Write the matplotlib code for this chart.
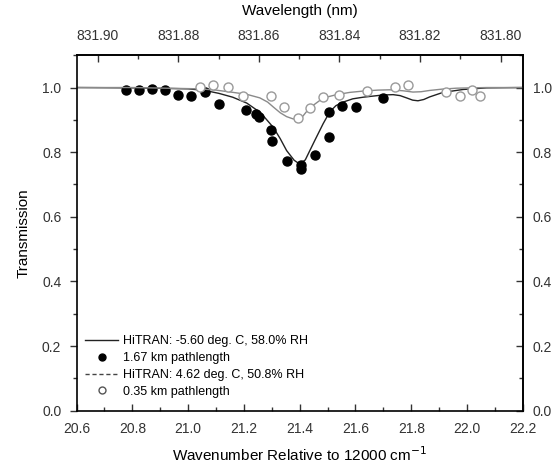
import matplotlib
matplotlib.use("Agg")
import matplotlib.pyplot as plt
from matplotlib.ticker import MultipleLocator, FixedLocator, FormatStrFormatter
from matplotlib.lines import Line2D

plt.rcParams['font.family'] = ['Liberation Sans', 'DejaVu Sans']

# HiTRAN model, -5.60 deg C, 58.0% RH (solid)
hit1_x = [20.60, 20.80, 21.00, 21.06, 21.11, 21.16, 21.21, 21.26, 21.305, 21.33, 21.353, 21.38,
          21.40, 21.42, 21.454, 21.484, 21.508, 21.53, 21.556, 21.59, 21.627, 21.699, 21.735,
          21.76, 21.783, 21.805, 21.824, 21.845, 21.866, 21.914, 21.986, 22.07, 22.20]
hit1_y = [1.000, 0.999, 0.996, 0.991, 0.982, 0.970, 0.952, 0.922, 0.877, 0.842, 0.805, 0.775,
          0.763, 0.776, 0.836, 0.888, 0.925, 0.944, 0.955, 0.965, 0.970, 0.977, 0.978,
          0.975, 0.968, 0.961, 0.959, 0.963, 0.971, 0.985, 0.994, 0.999, 1.000]

# HiTRAN model, 4.62 deg C, 50.8% RH (dashed, grey)
hit2_x = [20.60, 20.80, 21.04, 21.10, 21.161, 21.21, 21.257, 21.285, 21.305, 21.33, 21.353,
          21.376, 21.395, 21.41, 21.424, 21.45, 21.472, 21.50, 21.532, 21.58, 21.627, 21.68,
          21.723, 21.77, 21.806, 21.835, 21.866, 21.91, 21.962, 22.07, 22.20]
hit2_y = [1.000, 1.000, 0.996, 0.992, 0.985, 0.979, 0.968, 0.955, 0.940, 0.922, 0.910,
          0.903, 0.902, 0.910, 0.925, 0.946, 0.960, 0.971, 0.978, 0.985, 0.989, 0.992,
          0.993, 0.990, 0.986, 0.987, 0.991, 0.995, 0.998, 1.000, 1.000]

# 1.67 km pathlength measurements (filled)
m1_x = [20.776, 20.823, 20.869, 20.916, 20.964, 21.012, 21.062, 21.110, 21.206, 21.242, 21.253,
        21.296, 21.301, 21.353, 21.403, 21.403, 21.454, 21.505, 21.504, 21.552, 21.601, 21.697]
m1_y = [0.993, 0.991, 0.996, 0.991, 0.978, 0.975, 0.985, 0.950, 0.932, 0.917, 0.908,
        0.870, 0.834, 0.774, 0.759, 0.747, 0.790, 0.846, 0.924, 0.944, 0.941, 0.968]

# 0.35 km pathlength measurements (open)
m2_x = [21.042, 21.090, 21.143, 21.197, 21.296, 21.344, 21.394, 21.436, 21.482, 21.541, 21.642,
        21.741, 21.789, 21.926, 21.974, 22.018, 22.046]
m2_y = [1.003, 1.008, 1.001, 0.975, 0.975, 0.939, 0.906, 0.936, 0.971, 0.977, 0.989,
        1.003, 1.008, 0.985, 0.975, 0.993, 0.975]

top_ticks = [831.90, 831.88, 831.86, 831.84, 831.82, 831.80]
top_minor = [831.89, 831.87, 831.85, 831.83, 831.81]

labels = ['HiTRAN: -5.60 deg. C, 58.0% RH', '1.67 km pathlength',
          'HiTRAN: 4.62 deg. C, 50.8% RH', '0.35 km pathlength']

fig = plt.figure(figsize=(5.55, 4.72), dpi=100)
ax = fig.add_axes([0.138, 0.130, 0.804, 0.753])

ax.plot(hit1_x, hit1_y, color='#222222', lw=1.0)
ax.plot(m1_x, m1_y, 'o', color='black', ms=6.5)
ax.plot(hit2_x, hit2_y, color='#8a8a8a', lw=1.0)
ax.plot(m2_x, m2_y, 'o', mfc='white', mec='#9a9a9a', mew=1.0, ms=6.5)

ax.set_xlim(20.6, 22.2)
ax.set_ylim(0.0, 1.1)
ax.xaxis.set_major_locator(MultipleLocator(0.2))
ax.xaxis.set_minor_locator(MultipleLocator(0.1))
ax.yaxis.set_major_locator(MultipleLocator(0.2))
ax.yaxis.set_minor_locator(MultipleLocator(0.1))
ax.xaxis.set_major_formatter(FormatStrFormatter('%.1f'))
ax.yaxis.set_major_formatter(FormatStrFormatter('%.1f'))

ax.tick_params(axis='x', which='both', direction='in', top=False, labelsize=10,
               colors='#333333', pad=8)
ax.tick_params(axis='y', which='both', direction='out', right=False,
               labelsize=10, colors='#333333', pad=6)
ax.tick_params(which='major', length=5, width=1.0)
ax.tick_params(which='minor', length=3, width=1.0)
for s in ax.spines.values():
    s.set_linewidth(1.2)

ax.set_xlabel('Wavenumber Relative to 12000 cm$^{-1}$', fontsize=11, labelpad=7)
ax.set_ylabel('Transmission', fontsize=11, labelpad=8)

# right axis mirror (ticks pointing inward)
rax = ax.secondary_yaxis('right')
rax.yaxis.set_major_locator(MultipleLocator(0.2))
rax.yaxis.set_minor_locator(MultipleLocator(0.1))
rax.yaxis.set_major_formatter(FormatStrFormatter('%.1f'))
rax.tick_params(which='both', direction='in', labelsize=10, colors='#333333', pad=7)
rax.tick_params(which='major', length=5, width=1.0)
rax.tick_params(which='minor', length=3, width=1.0)
rax.spines['right'].set_linewidth(1.2)

def wn2wl(x):
    return 1e7 / (12000.0 + x)

def wl2wn(w):
    return 1e7 / w - 12000.0

sec = ax.secondary_xaxis('top', functions=(wn2wl, wl2wn))
sec.xaxis.set_major_locator(FixedLocator(top_ticks))
sec.xaxis.set_minor_locator(FixedLocator(top_minor))
sec.xaxis.set_major_formatter(FormatStrFormatter('%.2f'))
sec.tick_params(which='both', direction='in', labelsize=10, colors='#333333', pad=9)
sec.tick_params(which='major', length=5, width=1.0)
sec.tick_params(which='minor', length=3, width=1.0)
sec.spines['top'].set_linewidth(1.2)
sec.set_xlabel('Wavelength (nm)', fontsize=11, labelpad=10)

for a in (ax, rax, sec):
    a.xaxis.get_offset_text().set_visible(False)
    a.yaxis.get_offset_text().set_visible(False)
rax.xaxis.label.set_visible(False)
sec.yaxis.label.set_visible(False)

handles = [
    Line2D([], [], color='#222222', lw=1.0),
    Line2D([], [], marker='o', ls='none', color='black', ms=5),
    Line2D([], [], color='#444444', lw=1.0, ls=(0, (3, 2))),
    Line2D([], [], marker='o', ls='none', mfc='white', mec='#555555', ms=5),
]
ax.legend(handles, labels, loc='lower left', frameon=False, fontsize=9,
          handlelength=2.6, handletextpad=0.4, labelspacing=0.38,
          bbox_to_anchor=(0.0, 0.012), borderaxespad=0.3)

fig.savefig('out.png', dpi=100)
